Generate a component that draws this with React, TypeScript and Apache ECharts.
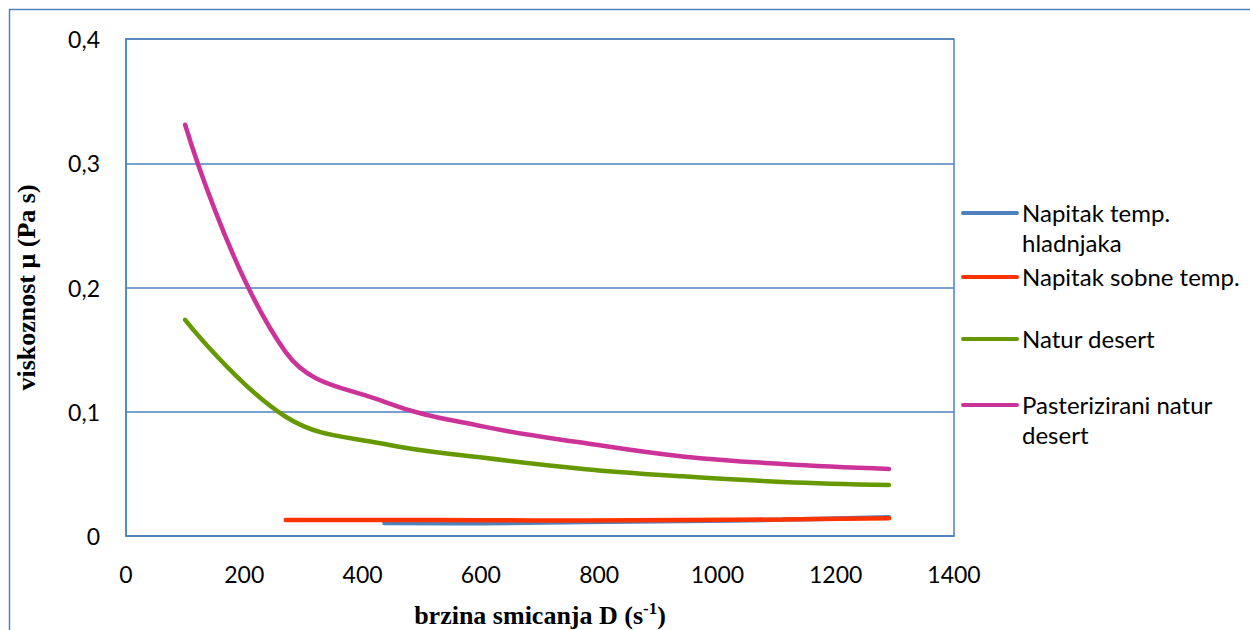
import React, { useEffect, useRef } from "react";
import * as echarts from "echarts";

const seriesNames = [
  "Napitak temp. hladnjaka",
  "Napitak sobne temp.",
  "Natur desert",
  "Pasterizirani natur desert",
];
const legendLabels = [
  "Napitak temp.\nhladnjaka",
  "Napitak sobne temp.",
  "Natur desert",
  "Pasterizirani natur\ndesert",
];
const colors = ["#4F81BD", "#FF3300", "#669900", "#CC3399"];

const shearHladnjak = [437, 605, 773, 941, 1110, 1290];
const viscHladnjak = [0.0105, 0.0103, 0.0112, 0.012, 0.0132, 0.015];

const shearSobna = [270, 437, 605, 773, 941, 1110, 1290];
const viscSobna = [0.0129, 0.0129, 0.0127, 0.0125, 0.0128, 0.0133, 0.0143];

const shearNatur = [100, 270, 437, 605, 773, 941, 1110, 1290];
const viscNatur = [0.174, 0.096, 0.074, 0.063, 0.054, 0.048, 0.0435, 0.041];

const shearPast = [100, 270, 437, 605, 773, 941, 1110, 1290];
const viscPast = [0.331, 0.148, 0.108, 0.088, 0.075, 0.064, 0.058, 0.054];

const xTicks = { min: 0, max: 1400, interval: 200 };
const yTicks = { min: 0, max: 0.4, interval: 0.1 };

const xs = [shearHladnjak, shearSobna, shearNatur, shearPast];
const ys = [viscHladnjak, viscSobna, viscNatur, viscPast];

export default function App() {
  const ref = useRef<HTMLDivElement>(null);
  useEffect(() => {
    document.body.style.margin = "0";
    if (!ref.current) return;
    const chart = echarts.init(ref.current, null, { renderer: "svg" });
    const tickFont = "Lato, 'Noto Sans', sans-serif";
    const serif = "'Liberation Serif', 'Times New Roman', serif";
    const legendTop = [213, 277, 339, 405];
    const graphic: any[] = [
      {
        type: "rect",
        shape: { x: 9.5, y: 9.5, width: 1400, height: 800 },
        style: { fill: "none", stroke: "#4F81BD", lineWidth: 1.5 },
        silent: true,
      },
    ];
    legendLabels.forEach((lab, i) => {
      graphic.push({
        type: "line",
        shape: { x1: 963, y1: legendTop[i], x2: 1017, y2: legendTop[i] },
        style: { stroke: colors[i], lineWidth: 4, lineCap: "round" },
      });
      graphic.push({
        type: "text",
        x: 1022,
        y: legendTop[i] - 16,
        style: {
          text: lab,
          font: `24px ${tickFont}`,
          fill: "#000",
          lineHeight: 30,
          verticalAlign: "top",
        },
      });
    });
    chart.setOption({
      animation: false,
      backgroundColor: "#fff",
      grid: {
        left: 126,
        top: 39,
        width: 828,
        height: 497,
        show: true,
        borderColor: "#4F81BD",
        borderWidth: 1.5,
        containLabel: false,
        outerBoundsMode: "none",
      },
      xAxis: {
        type: "value",
        min: xTicks.min,
        max: xTicks.max,
        interval: xTicks.interval,
        axisLine: { show: true, lineStyle: { color: "#4F81BD", width: 1.5 } },
        axisTick: { show: false },
        splitLine: { show: false },
        axisLabel: {
          color: "#000",
          fontSize: 23,
          fontFamily: tickFont,
          margin: 26,
          formatter: (v: number) => String(v),
        },
        name: "{b|brzina smicanja D (s}{sup|-1}{b|)}",
        nameLocation: "middle",
        nameGap: 64,
        nameTextStyle: {
          rich: {
            b: {
              fontFamily: serif,
              fontWeight: "bold",
              fontSize: 26,
              lineHeight: 28,
              color: "#000",
              verticalAlign: "bottom",
            },
            sup: {
              fontFamily: serif,
              fontWeight: "bold",
              fontSize: 17,
              lineHeight: 28,
              color: "#000",
              verticalAlign: "top",
            },
          },
        },
      },
      yAxis: {
        type: "value",
        min: yTicks.min,
        max: yTicks.max,
        interval: yTicks.interval,
        axisLine: { show: true, lineStyle: { color: "#4F81BD", width: 1.5 } },
        axisTick: { show: false },
        splitLine: { show: true, lineStyle: { color: "#4F81BD", width: 1.5 } },
        axisLabel: {
          color: "#000",
          fontSize: 23,
          fontFamily: tickFont,
          margin: 26,
          formatter: (v: number) => (v === 0 ? "0" : String(+v.toFixed(1)).replace(".", ",")),
        },
        name: "viskoznost μ (Pa s)",
        nameLocation: "middle",
        nameGap: 87,
        nameTextStyle: {
          fontFamily: serif,
          fontWeight: "bold",
          fontSize: 26,
          color: "#000",
        },
      },
      series: seriesNames.map((name, i) => ({
        name,
        type: "line",
        smooth: 0.4,
        showSymbol: false,
        symbol: "none",
        lineStyle: { color: colors[i], width: 4.5, cap: "round" },
        data: xs[i].map((x, j) => [x, ys[i][j]]),
        z: 2 + (i === 1 ? 1 : 0),
      })),
      graphic,
    });
    return () => chart.dispose();
  }, []);
  return <div ref={ref} style={{ width: 1250, height: 630 }} />;
}
